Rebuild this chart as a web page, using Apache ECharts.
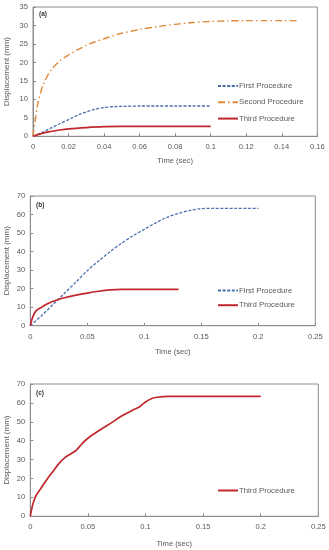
<!DOCTYPE html>
<html><head><meta charset="utf-8">
<script src="https://cdn.jsdelivr.net/npm/echarts@6/dist/echarts.min.js"></script>
<style>
html,body{margin:0;padding:0;background:#fff;width:329px;height:550px;overflow:hidden}
.c{position:absolute;left:0;width:329px}
</style></head><body>
<div id="a" class="c" style="top:0;height:180px"></div>
<div id="b" class="c" style="top:180px;height:180px"></div>
<div id="cc" class="c" style="top:360px;height:190px"></div>
<script>
// ---- Panel (a) ----
const aFirstT  = [0, 0.005, 0.01, 0.015, 0.02, 0.025, 0.03, 0.035, 0.04, 0.045, 0.05, 0.06, 0.07, 0.08, 0.09, 0.1];
const aFirstY  = [0, 1.0, 2.2, 3.4, 4.5, 5.7, 6.6, 7.3, 7.8, 8.0, 8.1, 8.2, 8.2, 8.2, 8.2, 8.2];
const aSecondT = [0, 0.001, 0.003, 0.006, 0.01, 0.015, 0.02, 0.025, 0.03, 0.035, 0.04, 0.045, 0.05, 0.06, 0.07, 0.08, 0.09, 0.1, 0.11, 0.12, 0.13, 0.14, 0.15];
const aSecondY = [0, 3.5, 9.5, 14.3, 17.8, 20.4, 22.0, 23.4, 24.6, 25.6, 26.4, 27.2, 27.9, 28.9, 29.7, 30.3, 30.8, 31.1, 31.25, 31.3, 31.3, 31.3, 31.3];
const aThirdT  = [0, 0.005, 0.01, 0.015, 0.02, 0.03, 0.04, 0.05, 0.06, 0.07, 0.08, 0.09, 0.1];
const aThirdY  = [0, 0.8, 1.3, 1.7, 2.0, 2.35, 2.6, 2.7, 2.7, 2.7, 2.7, 2.7, 2.7];
// ---- Panel (b) ----
const bFirstT  = [0, 0.01, 0.02, 0.03, 0.04, 0.05, 0.06, 0.07, 0.08, 0.09, 0.1, 0.11, 0.12, 0.13, 0.14, 0.15, 0.16, 0.17, 0.18, 0.19, 0.2];
const bFirstY  = [0, 5.5, 11.5, 17.5, 23.5, 29.7, 35.0, 40.0, 44.5, 48.5, 52.0, 55.5, 58.5, 60.6, 62.2, 63.2, 63.3, 63.3, 63.3, 63.3, 63.3];
const bThirdT  = [0, 0.002, 0.005, 0.01, 0.015, 0.02, 0.025, 0.03, 0.04, 0.05, 0.06, 0.07, 0.08, 0.09, 0.1, 0.11, 0.12, 0.13];
const bThirdY  = [0, 4.5, 8.0, 10.0, 11.8, 13.2, 14.2, 15.1, 16.5, 17.6, 18.6, 19.3, 19.6, 19.6, 19.6, 19.6, 19.6, 19.6];
// ---- Panel (c) ----
const cThirdT  = [0, 0.002, 0.005, 0.01, 0.015, 0.02, 0.025, 0.03, 0.035, 0.04, 0.045, 0.05, 0.06, 0.07, 0.08, 0.09, 0.095, 0.1, 0.105, 0.11, 0.12, 0.14, 0.16, 0.18, 0.2];
const cThirdY  = [0, 6.0, 11.0, 15.5, 20.0, 24.0, 28.0, 31.0, 33.0, 35.0, 38.5, 41.3, 45.5, 49.3, 53.3, 56.5, 58.0, 60.5, 62.2, 63.0, 63.5, 63.5, 63.5, 63.5, 63.5];

const seriesNames = ['First Procedure', 'Second Procedure', 'Third Procedure'];

const BLUE = '#4a6fad', ORANGE = '#e0893a', RED = '#c0282d';
const TXT = '#595959', AX = '#8c8c8c';
const FONT = 'Liberation Sans';

function pairs(t, y){ return t.map((v,i)=>[v, y[i]]); }

function styleFor(name){
  if(name === seriesNames[0]) return {color: BLUE, width: 1.3, type: [3, 1.6]};
  if(name === seriesNames[1]) return {color: ORANGE, width: 1.4, type: [7, 3, 1.5, 3]};
  return {color: RED, width: 1.7, type: 'solid'};
}

function mk(el, cfg){
  const chart = echarts.init(document.getElementById(el), null, {renderer:'canvas'});
  const series = cfg.series.map(s => {
    const ls = styleFor(s.name);
    return {
      type:'line', name:s.name, data:pairs(s.t, s.y), showSymbol:false, symbol:'none',
      smooth:0.3, color: ls.color,
      lineStyle:{color:ls.color, width:ls.width, type:ls.type}, z:3
    };
  });
  chart.setOption({
    animation:false,
    textStyle:{fontFamily:FONT},
    grid:{left:cfg.grid[0], top:cfg.grid[1], right:cfg.grid[2], bottom:cfg.grid[3], show:true, borderColor:AX, borderWidth:1, backgroundColor:'#fff', containLabel:false, outerBoundsMode:'none'},
    title:{text:cfg.label, left:cfg.labelPos[0], top:cfg.labelPos[1], padding:0, textStyle:{fontSize:6.5, fontWeight:'bold', color:'#333', fontFamily:FONT}},
    legend:{
      data:cfg.legend, orient:'vertical', left:cfg.legendPos[0], top:cfg.legendPos[1],
      itemWidth:20, itemHeight:8, itemGap:cfg.legendGap,
      itemStyle:{opacity:0},
      textStyle:{fontSize:7.8, color:TXT, fontFamily:FONT, padding:[0,0,0,-4]},
      padding:0
    },
    xAxis:{
      type:'value', min:0, max:cfg.xMax, interval:cfg.xInt,
      name:'Time (sec)', nameLocation:'middle', nameGap:cfg.xNameGap, nameMoveOverlap:false,
      nameTextStyle:{fontSize:7.6, color:TXT, fontFamily:FONT},
      axisLine:{show:true, onZero:false, lineStyle:{color:AX, width:1}},
      axisTick:{show:true, inside:true, length:3, lineStyle:{color:AX}},
      axisLabel:{fontSize:7.6, color:TXT, margin:7, fontFamily:FONT, formatter:v=>String(+v.toFixed(3))},
      splitLine:{show:false}
    },
    yAxis:{
      type:'value', min:0, max:cfg.yMax, interval:cfg.yInt,
      name:'Displacement (mm)', nameLocation:'middle', nameGap:cfg.yNameGap, nameRotate:90, nameMoveOverlap:false,
      nameTextStyle:{fontSize:8, color:TXT, fontFamily:FONT},
      axisLine:{show:true, lineStyle:{color:AX, width:1}},
      axisTick:{show:true, inside:true, length:3, lineStyle:{color:AX}},
      axisLabel:{fontSize:7.6, color:TXT, margin:5, fontFamily:FONT},
      splitLine:{show:false}
    },
    series
  });
}

mk('a', {
  grid:[33, 7, 11.7, 43.7], label:'(a)', labelPos:[39, 11],
  legend:seriesNames, legendPos:[217, 82], legendGap:8.3,
  xMax:0.16, xInt:0.02, yMax:35, yInt:5, xNameGap:21, yNameGap:22,
  series:[
    {name:seriesNames[0], t:aFirstT, y:aFirstY},
    {name:seriesNames[1], t:aSecondT, y:aSecondY},
    {name:seriesNames[2], t:aThirdT, y:aThirdY}
  ]
});
mk('b', {
  grid:[30.3, 16, 13.7, 34.3], label:'(b)', labelPos:[36, 22],
  legend:[seriesNames[0], seriesNames[2]], legendPos:[217, 106.5], legendGap:6.7,
  xMax:0.25, xInt:0.05, yMax:70, yInt:10, xNameGap:22, yNameGap:19.3,
  series:[
    {name:seriesNames[0], t:bFirstT, y:bFirstY},
    {name:seriesNames[2], t:bThirdT, y:bThirdY}
  ]
});
mk('cc', {
  grid:[30.3, 24, 10.7, 33.7], label:'(c)', labelPos:[36, 30],
  legend:[seriesNames[2]], legendPos:[217, 126.5], legendGap:8,
  xMax:0.25, xInt:0.05, yMax:70, yInt:10, xNameGap:24, yNameGap:19.3,
  series:[
    {name:seriesNames[2], t:cThirdT, y:cThirdY}
  ]
});
</script>
</body></html>
